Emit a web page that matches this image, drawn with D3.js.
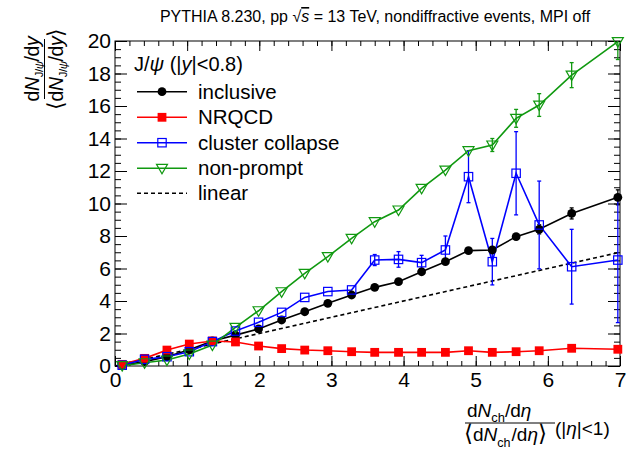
<!DOCTYPE html>
<html>
<head>
<meta charset="utf-8">
<script src="https://cdn.jsdelivr.net/npm/d3@7"></script>
<style>
  html, body { margin: 0; padding: 0; background: #fff; }
  svg { display: block; font-family: "Liberation Sans", Arial, Helvetica, sans-serif; }
</style>
</head>
<body>
<svg id="chart" width="640" height="450"></svg>
<script>
// ---------------- data ----------------
const xVals = [0.10, 0.41, 0.72, 1.03, 1.35, 1.67, 1.99, 2.31, 2.63, 2.95, 3.28, 3.60, 3.93, 4.25, 4.58, 4.90, 5.23, 5.56, 5.88, 6.33, 6.97];

const inclusive    = [0.05, 0.27, 0.57, 1.00, 1.54, 1.90, 2.28, 2.83, 3.34, 3.86, 4.37, 4.84, 5.19, 5.80, 6.42, 7.10, 7.14, 7.96, 8.41, 9.39, 10.38];
const inclusiveErr = [0.01, 0.02, 0.03, 0.03, 0.04, 0.05, 0.06, 0.07, 0.08, 0.09, 0.10, 0.11, 0.12, 0.13, 0.15, 0.17, 0.20, 0.22, 0.28, 0.34, 0.46];

const nrqcd        = [0.10, 0.47, 0.98, 1.35, 1.54, 1.48, 1.23, 1.07, 0.98, 0.94, 0.88, 0.84, 0.84, 0.84, 0.84, 0.94, 0.84, 0.88, 0.94, 1.09, 1.03];
const nrqcdErr     = [0.01, 0.01, 0.01, 0.02, 0.02, 0.02, 0.02, 0.02, 0.02, 0.02, 0.02, 0.02, 0.03, 0.03, 0.03, 0.03, 0.04, 0.04, 0.05, 0.05, 0.06];

const cluster      = [0.05, 0.41, 0.57, 0.88, 1.50, 2.15, 2.69, 3.30, 4.22, 4.58, 4.68, 6.52, 6.56, 6.36, 7.14, 11.65, 6.42, 11.86, 8.68, 6.11, 6.52];
const clusterErr   = [0.02, 0.03, 0.05, 0.05, 0.05, 0.08, 0.10, 0.12, 0.15, 0.15, 0.20, 0.34, 0.48, 0.45, 0.86, 1.60, 1.43, 2.56, 2.70, 2.30, 3.85];

const nonprompt    = [0.02, 0.20, 0.37, 0.74, 1.29, 2.38, 3.40, 4.57, 5.70, 6.73, 7.86, 8.88, 9.60, 10.93, 12.06, 13.25, 13.60, 15.24, 16.06, 17.90, 19.96];
const nonpromptErr = [0.01, 0.02, 0.03, 0.04, 0.05, 0.06, 0.07, 0.08, 0.09, 0.10, 0.11, 0.12, 0.13, 0.15, 0.17, 0.20, 0.40, 0.55, 0.70, 0.77, 1.10];

const linearX = [0, 7];
const linearY = [0, 7];

const xTicks = [0, 1, 2, 3, 4, 5, 6, 7];
const yTicks = [0, 2, 4, 6, 8, 10, 12, 14, 16, 18, 20];

// ---------------- layout ----------------
const svg = d3.select("#chart");
const L = 115, R = 620, T = 41, B = 366;
const x = d3.scaleLinear().domain([0, 7]).range([L, R]);
const y = d3.scaleLinear().domain([0, 20]).range([B, T]);

const xMinor = d3.range(0, 7.0001, 0.2).map(v => +v.toFixed(2));
const yMinor = d3.range(0, 20.0001, 0.5).map(v => +v.toFixed(2));

function styleAxis(g) {
  g.select(".domain").remove();
  g.selectAll("line").attr("stroke", "#000").attr("stroke-width", 1);
  g.selectAll("text").attr("fill", "#000").style("font-size", "21px")
    .style("font-family", '"Liberation Sans", Arial, sans-serif');
}

// bottom
svg.append("g").attr("transform", `translate(0,${B})`)
  .call(d3.axisBottom(x).tickValues(xMinor).tickSize(-5).tickFormat(""))
  .call(styleAxis);
svg.append("g").attr("transform", `translate(0,${B})`)
  .call(d3.axisBottom(x).tickValues(xTicks).tickSize(-10).tickPadding(6).tickFormat(d3.format("d")))
  .call(styleAxis);
// top
svg.append("g").attr("transform", `translate(0,${T})`)
  .call(d3.axisTop(x).tickValues(xMinor).tickSize(-5).tickFormat(""))
  .call(styleAxis);
svg.append("g").attr("transform", `translate(0,${T})`)
  .call(d3.axisTop(x).tickValues(xTicks).tickSize(-10).tickFormat(""))
  .call(styleAxis);
// left
svg.append("g").attr("transform", `translate(${L},0)`)
  .call(d3.axisLeft(y).tickValues(yMinor).tickSize(-6).tickFormat(""))
  .call(styleAxis);
svg.append("g").attr("transform", `translate(${L},0)`)
  .call(d3.axisLeft(y).tickValues(yTicks).tickSize(-12).tickPadding(4).tickFormat(d3.format("d")))
  .call(styleAxis);
// right
svg.append("g").attr("transform", `translate(${R},0)`)
  .call(d3.axisRight(y).tickValues(yMinor).tickSize(-6).tickFormat(""))
  .call(styleAxis);
svg.append("g").attr("transform", `translate(${R},0)`)
  .call(d3.axisRight(y).tickValues(yTicks).tickSize(-12).tickFormat(""))
  .call(styleAxis);

// frame
svg.append("rect").attr("x", L).attr("y", T).attr("width", R - L).attr("height", B - T)
  .attr("fill", "none").attr("stroke", "#000").attr("stroke-width", 1);

svg.append("clipPath").attr("id", "frameclip").append("rect")
  .attr("x", L).attr("y", T).attr("width", R - L).attr("height", B - T);

// ---------------- series ----------------
const line = d3.line().x(d => x(d[0])).y(d => y(d[1]));
const plot = svg.append("g");
const clipped = plot.append("g").attr("clip-path", "url(#frameclip)");

// linear reference
clipped.append("path").datum(d3.zip(linearX, linearY)).attr("d", line)
  .attr("fill", "none").attr("stroke", "#000").attr("stroke-width", 1.6)
  .attr("stroke-dasharray", "4,3");

const series = [
  { name: "inclusive", vals: inclusive, err: inclusiveErr, color: "#000000", marker: "circle" },
  { name: "NRQCD", vals: nrqcd, err: nrqcdErr, color: "#ff0000", marker: "square" },
  { name: "cluster collapse", vals: cluster, err: clusterErr, color: "#0000ff", marker: "osquare" },
  { name: "non-prompt", vals: nonprompt, err: nonpromptErr, color: "#109910", marker: "otriangle" }
];

function drawMarker(g, kind, color, cx, cy) {
  if (kind === "circle") {
    g.append("circle").attr("cx", cx).attr("cy", cy).attr("r", 4.4).attr("fill", color);
  } else if (kind === "square") {
    g.append("rect").attr("x", cx - 4.4).attr("y", cy - 4.4).attr("width", 8.8).attr("height", 8.8).attr("fill", color);
  } else if (kind === "osquare") {
    g.append("rect").attr("x", cx - 4.2).attr("y", cy - 4.2).attr("width", 8.4).attr("height", 8.4)
      .attr("fill", "none").attr("stroke", color).attr("stroke-width", 1.2);
  } else if (kind === "otriangle") {
    g.append("path").attr("d", `M${cx - 5.5},${cy - 4}L${cx + 5.5},${cy - 4}L${cx},${cy + 5.5}Z`)
      .attr("fill", "none").attr("stroke", color).attr("stroke-width", 1.2);
  }
}

series.forEach(s => {
  const pts = d3.zip(xVals, s.vals);
  clipped.append("path").datum(pts).attr("d", line)
    .attr("fill", "none").attr("stroke", s.color).attr("stroke-width", 1.6);
  const eg = clipped.append("g").attr("stroke", s.color).attr("stroke-width", 1.3);
  xVals.forEach((xv, k) => {
    const lo = y(s.vals[k] - s.err[k]), hi = y(s.vals[k] + s.err[k]);
    if (lo - hi < 9) return;
    eg.append("line").attr("x1", x(xv)).attr("x2", x(xv)).attr("y1", lo).attr("y2", hi);
    eg.append("line").attr("x1", x(xv) - 2).attr("x2", x(xv) + 2).attr("y1", lo).attr("y2", lo);
    eg.append("line").attr("x1", x(xv) - 2).attr("x2", x(xv) + 2).attr("y1", hi).attr("y2", hi);
  });
  const mg = plot.append("g");
  xVals.forEach((xv, k) => drawMarker(mg, s.marker, s.color, x(xv), y(s.vals[k])));
});

// ---------------- text helpers ----------------
function rich(textSel, parts, size, subScale, subShift) {
  let shift = 0;
  parts.forEach(p => {
    const target = p.sub ? subShift * size : 0;
    const fsz = p.sub ? size * subScale : (p.big ? size * p.big : size);
    const ts = textSel.append("tspan").text(p.t).style("font-size", fsz + "px");
    if (target !== shift) { ts.attr("dy", target - shift); shift = target; }
    if (p.i) ts.style("font-style", "italic");
    if (p.dx) ts.attr("dx", p.dx);
  });
}

// title
const title = svg.append("text").attr("x", 375).attr("y", 22).attr("text-anchor", "middle")
  .style("font-size", "16px").attr("fill", "#000");
title.append("tspan").text("PYTHIA 8.230, pp ");
title.append("tspan").text("\u221A");
title.append("tspan").text("s").style("font-style", "italic").style("text-decoration", "overline");
title.append("tspan").text(" = 13 TeV, nondiffractive events, MPI off");

// legend
const legY = [91.7, 117.3, 142.7, 168.3, 193.3];
const header = svg.append("text").attr("x", 134).attr("y", 70.5).style("font-size", "20px");
rich(header, [{ t: "J/" }, { t: "\u03C8", i: true }, { t: " (|" }, { t: "y", i: true }, { t: "|<0.8)" }], 20, 0.7, 0.3);

series.forEach((s, i) => {
  const g = svg.append("g");
  g.append("line").attr("x1", 137).attr("x2", 187).attr("y1", legY[i]).attr("y2", legY[i])
    .attr("stroke", s.color).attr("stroke-width", 1.6);
  drawMarker(g, s.marker, s.color, 162, legY[i]);
  g.append("text").attr("x", 198).attr("y", legY[i] + 7).style("font-size", "20.5px").text(s.name);
});
svg.append("line").attr("x1", 137).attr("x2", 187).attr("y1", legY[4]).attr("y2", legY[4])
  .attr("stroke", "#000").attr("stroke-width", 1.6).attr("stroke-dasharray", "4,3");
svg.append("text").attr("x", 198).attr("y", legY[4] + 7).style("font-size", "20.5px").text("linear");

// y-axis title (fraction, rotated)
const fs = 19.5;
const yt = svg.append("g").attr("transform", "translate(44.5,69) rotate(-90)");
const yNum = yt.append("text").attr("x", 0).attr("y", -5.5).attr("text-anchor", "middle").attr("letter-spacing", "-0.4");
rich(yNum, [{ t: "d" }, { t: "N", i: true }, { t: "J/", sub: true }, { t: "\u03C8", sub: true, i: true }, { t: "/d" }, { t: "y", i: true }], fs, 0.58, 0.22);
yt.append("line").attr("x1", -30).attr("x2", 30).attr("y1", 0).attr("y2", 0).attr("stroke", "#000").attr("stroke-width", 1);
const yDen = yt.append("text").attr("x", 0).attr("y", 18).attr("text-anchor", "middle").attr("letter-spacing", "-0.4");
rich(yDen, [{ t: "\u27E8", big: 1.15 }, { t: "d" }, { t: "N", i: true }, { t: "J/", sub: true }, { t: "\u03C8", sub: true, i: true }, { t: "/d" }, { t: "y", i: true }, { t: "\u27E9", big: 1.15 }], fs, 0.58, 0.22);

// x-axis title (fraction)
const xs = 19;
const xt = svg.append("g");
const xNum = xt.append("text").attr("x", 467).attr("y", 417);
rich(xNum, [{ t: "d" }, { t: "N", i: true }, { t: "ch", sub: true }, { t: "/d" }, { t: "\u03B7", i: true }], xs, 0.68, 0.28);
xt.append("line").attr("x1", 465).attr("x2", 555).attr("y1", 423).attr("y2", 423).attr("stroke", "#000").attr("stroke-width", 1);
const xDen = xt.append("text").attr("x", 464).attr("y", 441);
rich(xDen, [{ t: "\u27E8", big: 1.2 }, { t: "d" }, { t: "N", i: true }, { t: "ch", sub: true }, { t: "/d", dx: 1 }, { t: "\u03B7", i: true }, { t: "\u27E9", big: 1.2 }], xs, 0.66, 0.3);
const xSuf = xt.append("text").attr("x", 555).attr("y", 435);
rich(xSuf, [{ t: "(|" }, { t: "\u03B7", i: true }, { t: "|<1)" }], xs, 0.7, 0.3);
</script>
</body>
</html>
